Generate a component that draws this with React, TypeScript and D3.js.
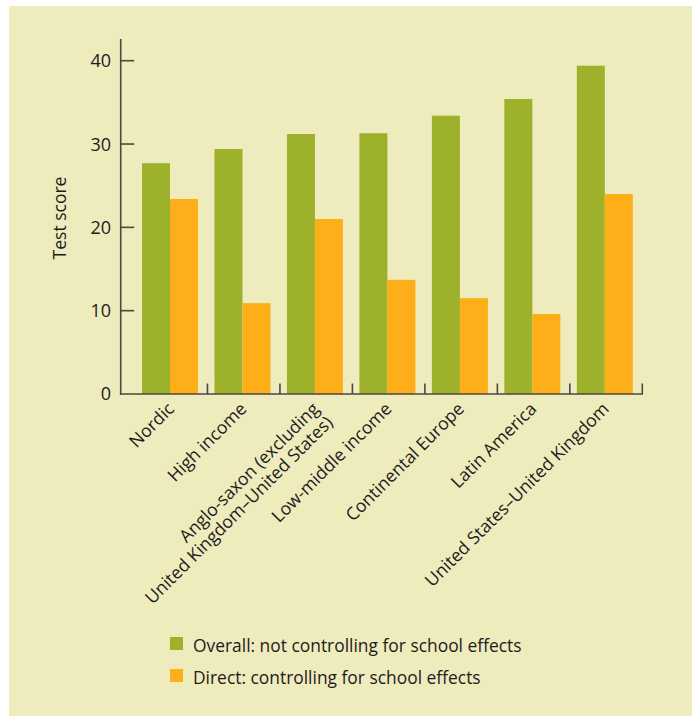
import React from "react";
import * as d3 from "d3";

const categories: string[][] = [
  ["Nordic"],
  ["High income"],
  ["Anglo-saxon (excluding", "United Kingdom–United States)"],
  ["Low-middle income"],
  ["Continental Europe"],
  ["Latin America"],
  ["United States–United Kingdom"],
];
const overall = [27.7, 29.4, 31.2, 31.3, 33.4, 35.4, 39.4];
const direct = [23.4, 10.9, 21.0, 13.7, 11.5, 9.6, 24.0];
const seriesNames = ["Overall: not controlling for school effects", "Direct: controlling for school effects"];
const yTicks = [0, 10, 20, 30, 40];

const W = 692;
const H = 716;
const BG = "#eeebbd";
const GREEN = "#9db22a";
const ORANGE = "#fdae19";
const AXIS = "#4b4743";
const TEXT = "#1e1b1c";
const FONT = "'Open Sans', sans-serif";

export default function App() {
  const keys = categories.map((c) => c.join(" "));
  const x = d3.scaleBand<string>().domain(keys).range([135, 642.3]).padding(0);
  const xs = d3.scaleBand<number>().domain([0, 1]).range([7, 63]).padding(0);
  const y = d3.scaleLinear().domain([0, 40]).range([394, 60.7]);
  const axisX0 = 120.7;
  const colors = [GREEN, ORANGE];
  const series = [overall, direct];

  return (
    <svg width={W} height={H} style={{ position: "absolute", left: 0, top: 0 }} fontFamily={FONT}>
      <rect x={9} y={6} width={W - 9} height={H - 6} fill={BG} />
      {/* bars */}
      {keys.map((k, i) => (
        <g key={k} transform={`translate(${x(k)},0)`}>
          {series.map((s, j) => (
            <rect
              key={j}
              x={xs(j)}
              width={xs.bandwidth()}
              y={y(s[i])}
              height={y(0) - y(s[i])}
              fill={colors[j]}
            />
          ))}
        </g>
      ))}
      {/* y axis */}
      <line x1={axisX0} x2={axisX0} y1={39} y2={y(0) + 1} stroke={AXIS} strokeWidth={1.6} />
      {yTicks.map((t) => (
        <g key={t}>
          {t > 0 && <line x1={axisX0} x2={axisX0 + 13.5} y1={y(t)} y2={y(t)} stroke={AXIS} strokeWidth={1.6} />}
          <text x={111} y={y(t)} dy="0.36em" textAnchor="end" fontSize={18} fill={TEXT}>
            {t}
          </text>
        </g>
      ))}
      {/* x axis */}
      <line x1={axisX0 - 0.8} x2={643} y1={y(0)} y2={y(0)} stroke={AXIS} strokeWidth={1.6} />
      {keys.map((k) => (
        <line
          key={k}
          x1={(x(k) as number) + x.bandwidth()}
          x2={(x(k) as number) + x.bandwidth()}
          y1={y(0)}
          y2={y(0) - 10.5}
          stroke={AXIS}
          strokeWidth={1.6}
        />
      ))}
      {/* category labels */}
      {categories.map((lines, i) => {
        const cx = (x(keys[i]) as number) + x.bandwidth() / 2;
        return (
          <text
            key={i}
            transform={`translate(${cx + 4},${y(0) + 16}) rotate(-45)`}
            textAnchor="end"
            fontSize={17.6}
            fill={TEXT}
          >
            {lines.map((l, li) => (
              <tspan key={li} x={0} dy={li === 0 ? 0 : "1.1em"}>
                {l}
              </tspan>
            ))}
          </text>
        );
      })}
      {/* y title */}
      <text transform={`translate(66,218) rotate(-90)`} textAnchor="middle" fontSize={17.5} fill={TEXT}>
        Test score
      </text>
      {/* legend */}
      {seriesNames.map((n, j) => (
        <g key={n} transform={`translate(170,${637 + j * 32})`}>
          <rect width={13} height={13} fill={colors[j]} />
          <text x={23} y={14.5} fontSize={17.4} fill={TEXT}>
            {n}
          </text>
        </g>
      ))}
    </svg>
  );
}
